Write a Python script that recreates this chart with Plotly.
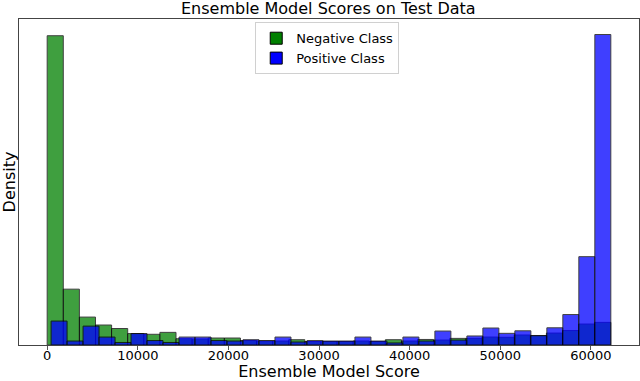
import numpy as np
import plotly.graph_objects as go

# histogram bin ranges (score units), 35 bins each
N_BINS = 35
neg_range = (0, 62200)
pos_range = (430, 62200)

# bar heights (density, in units of 1e-5)
neg_density = [25.7, 4.64, 2.32, 1.66, 1.37, 0.95, 0.89, 1.05, 0.52, 0.50,
               0.58, 0.58, 0.37, 0.33, 0.33, 0.44, 0.29, 0.29, 0.29, 0.33,
               0.29, 0.44, 0.33, 0.46, 0.41, 0.55, 0.55, 0.66, 0.64, 0.83,
               0.79, 0.99, 1.20, 1.74, 1.88]
pos_density = [1.99, 0.33, 1.57, 0.66, 0.21, 0.95, 0.37, 0.21, 0.66, 0.66,
               0.37, 0.33, 0.44, 0.37, 0.66, 0.25, 0.37, 0.33, 0.33, 0.66,
               0.33, 0.17, 0.66, 0.33, 1.16, 0.41, 0.75, 1.41, 0.97, 1.18,
               0.77, 1.43, 2.53, 7.34, 25.8]

xticks = [0, 10000, 20000, 30000, 40000, 50000, 60000]
xtick_labels = ["0", "10000", "20000", "30000", "40000", "50000", "60000"]


def bins(rng):
    edges = np.linspace(rng[0], rng[1], N_BINS + 1)
    return (edges[:-1] + edges[1:]) / 2, np.diff(edges)


FONT = "DejaVu Sans"

fig = go.Figure()
for name, rng, dens, col in [
    ("Negative Class", neg_range, neg_density, "#008000"),
    ("Positive Class", pos_range, pos_density, "#0000ff"),
]:
    centers, widths = bins(rng)
    fig.add_bar(x=centers, y=dens, width=widths, name=name,
                marker=dict(color=col, opacity=0.75,
                            line=dict(color="black", width=1)))

ymax = max(max(neg_density), max(pos_density)) * 1.05

fig.update_layout(
    width=640, height=381,
    barmode="overlay",
    plot_bgcolor="white", paper_bgcolor="white",
    margin=dict(l=19, r=1, t=19, b=36),
    font=dict(family=FONT, size=14, color="black"),
    title=dict(text="Ensemble Model Scores on Test Data", x=0.513, xanchor="center",
               y=0.979, yanchor="middle", yref="container",
               font=dict(size=16, family=FONT)),
    legend=dict(x=0.381, xanchor="left", y=0.99, yanchor="top",
                bgcolor="white", bordercolor="#d0d0d0", borderwidth=1,
                font=dict(size=13, family=FONT), tracegroupgap=0),
    showlegend=True,
)
fig.update_xaxes(range=[-3110, 65310], tickvals=xticks, ticktext=xtick_labels,
                 tickfont=dict(size=13),
                 ticks="outside", ticklen=4, tickcolor="#555",
                 ticklabelstandoff=-6,
                 showgrid=False, zeroline=False,
                 showline=True, linecolor="#444", linewidth=1, mirror=True,
                 title=dict(text="Ensemble Model Score", standoff=9,
                            font=dict(size=16)),
                 automargin=False)
fig.update_yaxes(range=[0, ymax], showticklabels=False, ticks="",
                 showgrid=False, zeroline=False,
                 showline=True, linecolor="#444", linewidth=1, mirror=True,
                 title=dict(text="Density", standoff=0, font=dict(size=16)),
                 automargin=False)

fig.write_html("out.html", config={"displayModeBar": False},
               post_script="document.body.style.margin='0';")
